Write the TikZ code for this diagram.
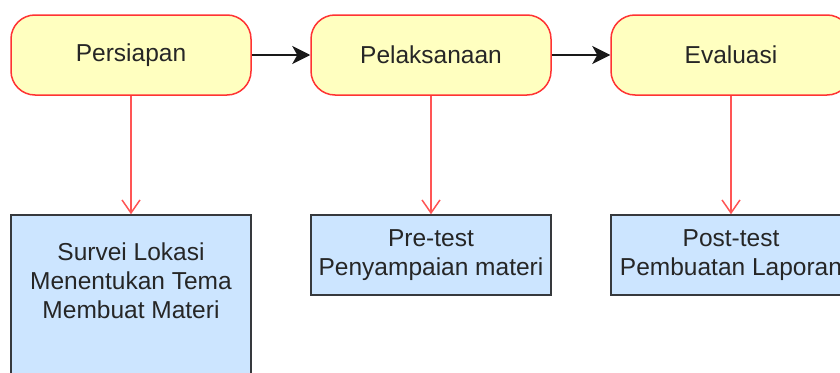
\documentclass[tikz,border=0pt]{standalone}
\usepackage{fontspec}
\setmainfont{Liberation Sans}
\usetikzlibrary{arrows.meta}

\definecolor{phasefill}{HTML}{FFFFC0}
\definecolor{phaseline}{HTML}{FF3333}
\definecolor{taskfill}{HTML}{CCE5FF}
\definecolor{taskline}{HTML}{36393D}
\definecolor{downred}{HTML}{FF5555}

\begin{document}
\begin{tikzpicture}[x=1pt,y=-1pt,
    label text/.style={font=\fontsize{24.5}{29}\selectfont,text=black!85,align=center},
    phase/.style={shape=rectangle,rounded corners=24pt,draw=phaseline,fill=phasefill,line width=1.5pt,minimum width=240pt,minimum height=80pt,label text},
    task/.style={shape=rectangle,draw=taskline,fill=taskfill,line width=1.5pt,minimum width=240pt,minimum height=80pt,label text},
    next/.style={-{Stealth[length=18pt,width=18pt,inset=5pt]},line width=1.8pt,black!90},
    down/.style={-{Straight Barb[length=13pt,width=18pt]},line width=1.5pt,downred}]
    \useasboundingbox (0,0) rectangle (840,372);
    \clip (0,0) rectangle (840,372);

    % phases
    \node[phase] (persiapan) at (131,55) {Persiapan};
    \node[phase] (pelaksanaan) at (431,55) {Pelaksanaan};
    \node[phase] (evaluasi) at (731,55) {Evaluasi};

    % tasks
    \node[task,minimum height=170pt] (survei) at (131,300) {};
    \node[label text] (surveitext) at (131,281) {Survei Lokasi\\Menentukan Tema\\Membuat Materi};
    \node[task] (pretest) at (431,255) {Pre-test\\Penyampaian materi};
    \node[task] (posttest) at (731,255) {Post-test\\Pembuatan Laporan};

    \path[next] (persiapan) edge (pelaksanaan);
    \path[next] (pelaksanaan) edge (evaluasi);
    \path[down] (persiapan) edge (survei);
    \path[down] (pelaksanaan) edge (pretest);
    \path[down] (evaluasi) edge (posttest);
\end{tikzpicture}
\end{document}
